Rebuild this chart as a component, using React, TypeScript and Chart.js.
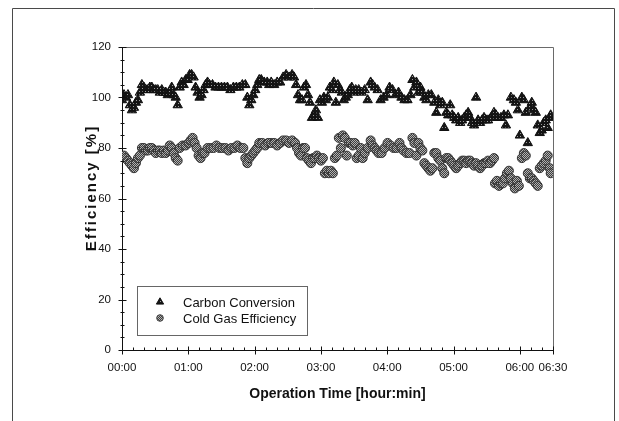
import React, { useEffect, useRef } from 'react';
import { Chart, registerables } from 'chart.js';

Chart.register(...registerables);

// Operation time in minutes and values in %
const carbonTime = [
  0, 1.8, 3.6, 5.4, 7.2, 9, 10.8, 12.6, 14.4, 16.2, 18, 19.8, 21.6, 23.4, 25.2, 27, 28.8, 30.6, 32.4, 34.2,
  36, 37.8, 39.6, 41.4, 43.2, 45, 46.8, 48.6, 50.4, 52.2, 54, 55.8, 57.6, 59.4, 61.2, 63, 64.8, 66.6, 68.4, 70.2,
  72, 73.8, 75.6, 77.4, 79.2, 81.9, 84.6, 87.3, 90, 92.7, 95.4, 98.1, 100.8, 103.5, 106.2, 108.9, 111.6, 113.4, 115.2, 117,
  118.8, 120.6, 122.4, 124.2, 126, 128.7, 131.4, 133.2, 135, 137.7, 140.4, 143.1, 145.8, 148.5, 151.2, 153.9, 155.7, 157.5, 159.3, 161.1,
  162.9, 164.7, 166.5, 168.3, 170.1, 171.9, 173.7, 175.5, 177.3, 179.1, 180.9, 182.7, 184.5, 186.3, 188.1, 189.9, 191.7, 193.5, 195.3, 197.1,
  198.9, 200.7, 202.5, 204.3, 206.1, 207.9, 209.7, 211.5, 214.2, 216.9, 219.6, 222.3, 225, 226.8, 228.6, 231.3, 234, 236.7, 239.4, 242.1,
  244.8, 247.5, 250.2, 252.9, 255.6, 258.3, 261, 262.8, 264.6, 266.4, 268.2, 270, 271.8, 273.6, 275.4, 277.2, 279.9, 282.6, 284.4, 286.2,
  288, 289.8, 291.6, 293.4, 295.2, 297, 298.8, 300.6, 302.4, 304.2, 306, 307.8, 309.6, 311.4, 313.2, 315, 316.8, 318.6, 320.4, 322.2,
  324, 325.8, 327.6, 329.4, 331.2, 333.9, 336.6, 338.4, 340.2, 342.9, 345.6, 347.4, 349.2, 351.9, 354.6, 356.4, 358.2, 360, 361.8, 363.6,
  365.4, 367.2, 369, 370.8, 372.6, 374.4, 376.2, 378, 379.8, 381.6, 383.4, 385.2, 387, 387.9,
];
const carbonValue = [
  99, 101, 100, 101, 97, 95, 96, 98, 99, 102, 105, 104, 103, 103, 104, 104, 103, 103, 103, 102,
  103, 102, 102, 101, 102, 104, 101, 100, 97, 104, 106, 105, 107, 107, 109, 109, 108, 104, 102, 100,
  101, 103, 105, 106, 105, 105, 104, 104, 104, 104, 104, 103, 104, 104, 104, 105, 105, 100, 97, 99,
  101, 103, 105, 107, 107, 106, 106, 105, 106, 105, 106, 106, 108, 109, 108, 109, 108, 105, 101, 99,
  99, 104, 105, 101, 98, 92, 93, 95, 92, 99, 98, 100, 99, 100, 104, 103, 106, 98, 105, 103,
  102, 99, 100, 101, 103, 104, 102, 103, 103, 102, 103, 99, 106, 105, 104, 103, 99, 100, 101, 104,
  103, 101, 102, 100, 99, 99, 101, 107, 104, 106, 102, 104, 102, 100, 99, 101, 101, 98, 94, 99,
  97, 98, 88, 94, 93, 97, 93, 92, 91, 92, 90, 91, 92, 93, 94, 92, 90, 89, 100, 91,
  90, 91, 92, 91, 91, 92, 94, 93, 92, 92, 93, 89, 93, 100, 99, 98, 95, 85, 100, 99,
  94, 82, 96, 98, 95, 94, 89, 86, 87, 90, 91, 88, 92, 93,
];
const coldGasTime = [
  0, 1.8, 3.6, 5.4, 7.2, 9, 10.8, 12.6, 14.4, 16.2, 18, 19.8, 21.6, 23.4, 25.2, 27, 28.8, 30.6, 32.4, 34.2,
  36, 37.8, 39.6, 41.4, 43.2, 45, 46.8, 48.6, 50.4, 52.2, 54.9, 57.6, 60.3, 62.1, 63.9, 65.7, 67.5, 69.3, 71.1, 72.9,
  74.7, 77.4, 80.1, 82.8, 85.5, 88.2, 90.9, 93.6, 96.3, 99, 101.7, 104.4, 107.1, 109.8, 111.6, 113.4, 115.2, 117, 118.8, 120.6,
  122.4, 124.2, 126.9, 129.6, 132.3, 135, 137.7, 140.4, 143.1, 145.8, 148.5, 151.2, 153.9, 156.6, 158.4, 160.2, 162, 163.8, 165.6, 167.4,
  169.2, 171, 172.8, 174.6, 176.4, 178.2, 180, 181.8, 183.6, 185.4, 187.2, 189, 190.8, 192.6, 194.4, 196.2, 198, 199.8, 201.6, 203.4,
  205.2, 207, 208.8, 210.6, 212.4, 214.2, 216, 217.8, 219.6, 222.3, 225, 226.8, 228.6, 230.4, 232.2, 234.9, 237.6, 240.3, 243, 245.7,
  248.4, 251.1, 252.9, 254.7, 257.4, 260.1, 262.8, 264.6, 266.4, 268.2, 270, 271.8, 273.6, 275.4, 277.2, 279, 280.8, 282.6, 284.4, 286.2,
  288, 289.8, 291.6, 293.4, 295.2, 297, 298.8, 300.6, 302.4, 304.2, 306, 307.8, 309.6, 311.4, 313.2, 315, 316.8, 318.6, 320.4, 322.2,
  324, 325.8, 327.6, 329.4, 331.2, 333, 334.8, 336.6, 337.5, 339.3, 341.1, 342.9, 344.7, 346.5, 348.3, 350.1, 351.9, 353.7, 355.5, 357.3,
  359.1, 361.8, 363.6, 365.4, 367.2, 369, 370.8, 372.6, 374.4, 376.2, 378, 379.8, 381.6, 383.4, 385.2, 387, 387.9,
];
const coldGasValue = [
  76, 77, 76, 75, 74, 73, 72, 74, 76, 77, 80, 80, 79, 79, 80, 80, 79, 78, 79, 79,
  78, 79, 78, 79, 81, 80, 78, 76, 75, 80, 81, 81, 82, 83, 84, 82, 80, 77, 76, 78,
  78, 80, 80, 80, 81, 80, 80, 80, 79, 80, 80, 81, 80, 80, 76, 74, 76, 77, 78, 79,
  80, 82, 82, 81, 82, 82, 82, 81, 82, 83, 83, 82, 83, 82, 80, 78, 77, 80, 80, 76,
  75, 74, 76, 76, 77, 76, 75, 76, 70, 71, 70, 71, 70, 76, 77, 84, 80, 85, 84, 77,
  82, 82, 81, 82, 76, 77, 80, 76, 78, 80, 83, 81, 80, 79, 78, 78, 80, 82, 81, 80,
  80, 82, 80, 79, 78, 78, 84, 82, 77, 82, 80, 79, 74, 73, 72, 71, 72, 78, 78, 76,
  75, 72, 70, 76, 76, 75, 74, 73, 72, 73, 74, 75, 75, 74, 75, 75, 74, 73, 74, 73,
  72, 73, 74, 74, 75, 74, 75, 76, 66, 67, 65, 66, 66, 68, 70, 71, 68, 66, 64, 67,
  65, 76, 78, 77, 70, 68, 68, 67, 66, 65, 72, 73, 74, 75, 77, 72, 70,
];

const xTickValues = [0, 60, 120, 180, 240, 300, 360, 390];
const xTickLabels = ['00:00', '01:00', '02:00', '03:00', '04:00', '05:00', '06:00', '06:30'];
const seriesNames = ['Carbon Conversion', 'Cold Gas Efficiency'];
const xTitle = 'Operation Time [hour:min]';
const yTitle = 'Efficiency [%]';

const FONT = '"Liberation Sans", Arial, sans-serif';

function makePattern(w: number, h: number, base: string, dot: string, dots: number[][]) {
  const c = document.createElement('canvas');
  c.width = w;
  c.height = h;
  const g = c.getContext('2d')!;
  g.fillStyle = base;
  g.fillRect(0, 0, w, h);
  g.fillStyle = dot;
  dots.forEach(([x, y]) => g.fillRect(x, y, 1, 1));
  return g.createPattern(c, 'repeat')!;
}

export default function App() {
  const ref = useRef<HTMLCanvasElement>(null);

  useEffect(() => {
    const canvas = ref.current!;
    const triFill = makePattern(3, 3, '#161616', '#9c9c9c', [[1, 1]]);
    const cirFill = makePattern(2, 2, '#3e3e3e', '#b2b2b2', [[0, 0], [1, 1]]);

    const decor = {
      id: 'decor',
      beforeDraw(chart: any) {
        const ctx = chart.ctx;
        ctx.save();
        ctx.fillStyle = '#fff';
        ctx.fillRect(0, 0, chart.width, chart.height);
        ctx.restore();
      },
      afterDraw(chart: any) {
        const ctx: CanvasRenderingContext2D = chart.ctx;
        const xs = chart.scales.x;
        const ys = chart.scales.y;
        const { left, right, top, bottom } = chart.chartArea;
        ctx.save();
        // outer frame
        ctx.strokeStyle = '#4a4a4a';
        ctx.lineWidth = 1;
        ctx.beginPath();
        ctx.moveTo(12.5, chart.height);
        ctx.lineTo(12.5, 8.5);
        ctx.lineTo(614.5, 8.5);
        ctx.lineTo(614.5, chart.height);
        ctx.stroke();
        // plot box top & right
        ctx.strokeStyle = '#6a6a6a';
        ctx.beginPath();
        ctx.moveTo(left, Math.round(top) + 0.5);
        ctx.lineTo(Math.round(right) + 0.5, Math.round(top) + 0.5);
        ctx.lineTo(Math.round(right) + 0.5, bottom);
        ctx.stroke();
        // ticks
        ctx.strokeStyle = '#111';
        ctx.beginPath();
        const ax = Math.round(left) + 0.5;
        for (let v = 0; v <= 120; v += 5) {
          const y = Math.round(ys.getPixelForValue(v)) + 0.5;
          const major = v % 20 === 0;
          ctx.moveTo(ax - (major ? 4 : 2), y);
          ctx.lineTo(ax + (major ? 4 : 2), y);
        }
        const ay = Math.round(bottom) + 0.5;
        for (let t = 0; t <= 390; t += 10) {
          const x = Math.round(xs.getPixelForValue(t)) + 0.5;
          const major = t % 60 === 0 || t === 390;
          ctx.moveTo(x, ay - (major ? 4 : 3));
          ctx.lineTo(x, ay + (major ? 4 : 0));
        }
        ctx.stroke();
        // y title
        ctx.save();
        ctx.translate(92, 189);
        ctx.rotate(-Math.PI / 2);
        ctx.font = 'bold 15px ' + FONT;
        (ctx as any).letterSpacing = '2px';
        ctx.fillStyle = '#111';
        ctx.textAlign = 'center';
        ctx.textBaseline = 'middle';
        ctx.fillText(yTitle, 1, 0);
        ctx.restore();
        // legend
        ctx.strokeStyle = '#666';
        ctx.strokeRect(137.5, 286.5, 170, 49);
        const lx = 160;
        const ly1 = 302;
        const ly2 = 318;
        const r = 4.2;
        ctx.beginPath();
        ctx.moveTo(lx, ly1 - r);
        ctx.lineTo(lx + r * 0.866, ly1 + r * 0.5);
        ctx.lineTo(lx - r * 0.866, ly1 + r * 0.5);
        ctx.closePath();
        ctx.fillStyle = triFill;
        ctx.fill();
        ctx.strokeStyle = '#111';
        ctx.stroke();
        ctx.beginPath();
        ctx.arc(lx, ly2, 3.3, 0, Math.PI * 2);
        ctx.fillStyle = cirFill;
        ctx.fill();
        ctx.strokeStyle = '#444';
        ctx.stroke();
        ctx.fillStyle = '#111';
        ctx.font = '13px ' + FONT;
        ctx.textAlign = 'left';
        ctx.textBaseline = 'middle';
        ctx.fillText(seriesNames[0], 183, ly1 + 1);
        ctx.fillText(seriesNames[1], 183, ly2 + 1);
        ctx.restore();
      },
    };

    const chart = new Chart(canvas, {
      type: 'scatter',
      data: {
        datasets: [
          {
            label: seriesNames[0],
            data: carbonTime.map((t, i) => ({ x: t, y: carbonValue[i] })),
            pointStyle: 'triangle',
            pointRadius: 5.4,
            pointBorderWidth: 1,
            pointBorderColor: '#101010',
            pointBackgroundColor: triFill,
          },
          {
            label: seriesNames[1],
            data: coldGasTime.map((t, i) => ({ x: t, y: coldGasValue[i] })),
            pointStyle: 'circle',
            pointRadius: 4.5,
            pointBorderWidth: 1,
            pointBorderColor: '#333',
            pointBackgroundColor: cirFill,
          },
        ],
      },
      options: {
        animation: false,
        responsive: false,
        events: [],
        layout: { padding: { left: 0, right: 66, top: 47, bottom: 0 } },
        plugins: {
          legend: { display: false },
          tooltip: { enabled: false },
        },
        scales: {
          x: {
            type: 'linear',
            min: 0,
            max: 390,
            afterFit: (s: any) => {
              s.height = 71;
            },
            afterBuildTicks: (s: any) => {
              s.ticks = xTickValues.map((v) => ({ value: v }));
            },
            ticks: {
              autoSkip: false,
              maxRotation: 0,
              minRotation: 0,
              padding: 11,
              color: '#111',
              font: { family: FONT, size: 11.5 },
              callback: (_v: any, i: number) => xTickLabels[i],
            },
            grid: { display: true, drawOnChartArea: false, drawTicks: false },
            border: { display: true, color: '#111', width: 1 },
            title: {
              display: true,
              text: xTitle,
              color: '#111',
              font: { family: FONT, size: 14, weight: 'bold' },
              padding: { top: 0, bottom: 18 },
            },
          },
          y: {
            type: 'linear',
            min: 0,
            max: 120,
            afterFit: (s: any) => {
              s.width = 122;
            },
            ticks: {
              stepSize: 20,
              padding: 11,
              color: '#111',
              font: { family: FONT, size: 11.5 },
            },
            grid: { display: true, drawOnChartArea: false, drawTicks: false },
            border: { display: true, color: '#111', width: 1 },
          },
        },
      },
      plugins: [decor],
    });

    return () => chart.destroy();
  }, []);

  return (
    <div style={{ position: 'absolute', left: 0, top: 0, width: 619, height: 421, background: '#fff' }}>
      <canvas ref={ref} width={619} height={421} style={{ display: 'block' }} />
    </div>
  );
}
